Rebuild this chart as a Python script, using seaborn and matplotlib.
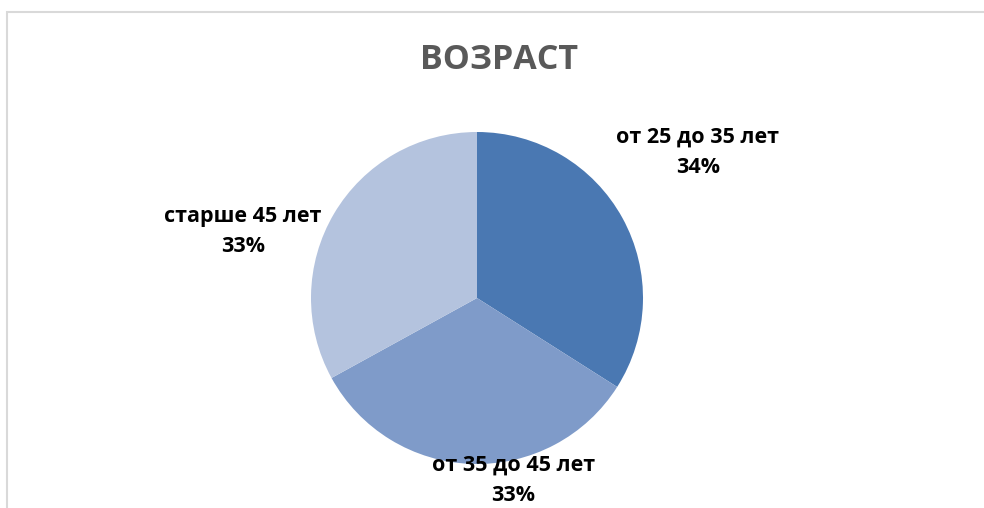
import matplotlib
matplotlib.use("Agg")
import matplotlib.pyplot as plt
import seaborn as sns
from matplotlib.patches import Rectangle

# данные
categories = ['от 25 до 35 лет', 'от 35 до 45 лет', 'старше 45 лет']
shares = [34, 33, 33]
colors = ['#4A78B2', '#7F9BC9', '#B4C3DE']
title = 'ВОЗРАСТ'

sns.set_theme(style='white')
plt.rcParams['font.family'] = ['Open Sans', 'DejaVu Sans']

W, H = 984, 508
fig = plt.figure(figsize=(W / 100, H / 100), dpi=100)

# рамка диаграммы
fig.patches.append(Rectangle((7 / W, -0.1), 1.2, (H - 12) / H + 0.1,
                             transform=fig.transFigure, fill=False,
                             edgecolor='#D9D9D9', linewidth=1.5))

cx, cy, r = 477, 298, 166
ax = fig.add_axes([(cx - r) / W, (H - cy - r) / H, 2 * r / W, 2 * r / H])
wedges, _ = ax.pie(shares, colors=colors, startangle=90, counterclock=False,
                   radius=1, wedgeprops=dict(linewidth=0))
ax.set_xlim(-1, 1)
ax.set_ylim(-1, 1)
ax.set_aspect('equal')
ax.axis('off')

# подписи данных
label_pos = [(1.33, 0.88), (0.22, -1.10), (-1.41, 0.40)]
for cat, val, (lx, ly) in zip(categories, shares, label_pos):
    ax.text(lx, ly, f'{cat}\n{val}%', ha='center', va='center',
            fontsize=15.5, fontweight='bold', color='black',
            linespacing=1.6, clip_on=False)

fig.text(499 / W, 1 - 60 / H, title, ha='center', va='center',
         fontsize=24.5, fontweight='bold', color='#595959')

plt.savefig('out.png', dpi=100)
plt.close()
